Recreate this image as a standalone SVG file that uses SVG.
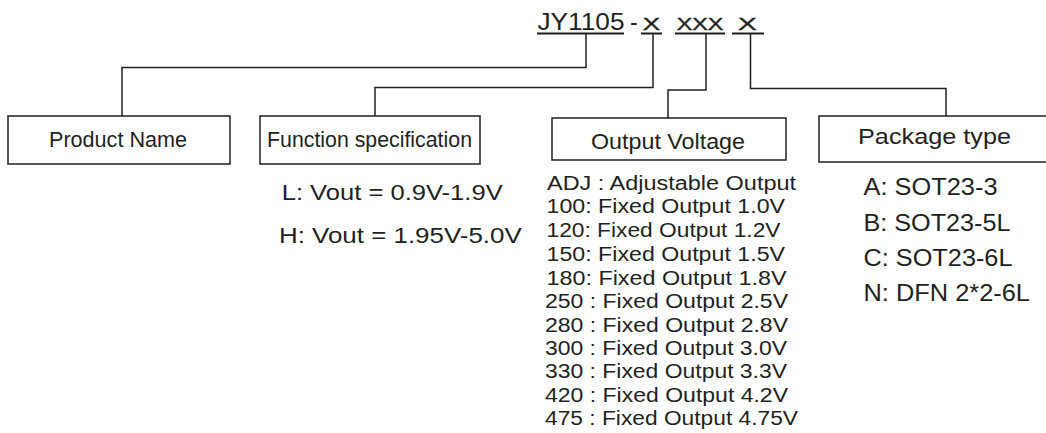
<svg xmlns="http://www.w3.org/2000/svg" width="1046" height="433" viewBox="0 0 1046 433">
<style>
text{font-family:"Liberation Sans",Arial,sans-serif;fill:#231f20}
.box{fill:#fff;stroke:#231f20;stroke-width:1.5}
.con{fill:none;stroke:#231f20;stroke-width:1.5}
.ul{stroke:#231f20;stroke-width:2}
.lbl{font-size:22.5px}
.ov{font-size:20px}
.pk{font-size:24px}
.x{font-size:17px;stroke:#231f20;stroke-width:0.4}
</style>
<rect width="1046" height="433" fill="#fff"/>
<g id="title">
<text x="537.5" y="30" font-size="23" textLength="87" lengthAdjust="spacingAndGlyphs">JY1105</text>
<text x="630" y="30" font-size="23">-</text>
<text x="642.7" y="30" class="x" textLength="17.3" lengthAdjust="spacingAndGlyphs">X</text>
<text x="676.7" y="30" class="x" textLength="46.7" lengthAdjust="spacingAndGlyphs">XXX</text>
<text x="738" y="30" class="x" textLength="18.7" lengthAdjust="spacingAndGlyphs">X</text>
<line class="ul" x1="537" y1="33.5" x2="624" y2="33.5"/>
<line class="ul" x1="641" y1="33.5" x2="662" y2="33.5"/>
<line class="ul" x1="675" y1="33.5" x2="725" y2="33.5"/>
<line class="ul" x1="732" y1="33.5" x2="764" y2="33.5"/>
</g>
<g id="connectors">
<path class="con" d="M586,33.5 V67.5 H122 V116"/>
<path class="con" d="M653,33.5 V87.5 H375 V116"/>
<path class="con" d="M706,33.5 V90 H668 V118"/>
<path class="con" d="M750.5,33.5 V88.5 H946 V116"/>
</g>
<g id="product-name">
<rect class="box" x="8" y="116" width="222" height="48"/>
<text x="49" y="147" class="lbl" textLength="138" lengthAdjust="spacingAndGlyphs">Product Name</text>
</g>
<g id="function-spec">
<rect class="box" x="260" y="116" width="220" height="48"/>
<text x="267" y="147" class="lbl" textLength="205" lengthAdjust="spacingAndGlyphs">Function specification</text>
<text x="281.7" y="200" class="lbl" textLength="221" lengthAdjust="spacingAndGlyphs">L: Vout = 0.9V-1.9V</text>
<text x="279" y="242.7" class="lbl" textLength="242.7" lengthAdjust="spacingAndGlyphs">H: Vout = 1.95V-5.0V</text>
</g>
<g id="output-voltage">
<rect class="box" x="552" y="118" width="234" height="42"/>
<text x="591" y="148.5" class="lbl" textLength="154" lengthAdjust="spacingAndGlyphs">Output Voltage</text>
<text x="547" y="189.5" class="ov" textLength="249" lengthAdjust="spacingAndGlyphs">ADJ : Adjustable Output</text>
<text x="546.5" y="213" class="ov" textLength="238.5" lengthAdjust="spacingAndGlyphs">100: Fixed Output 1.0V</text>
<text x="546.5" y="236.7" class="ov" textLength="234" lengthAdjust="spacingAndGlyphs">120: Fixed Output 1.2V</text>
<text x="546.5" y="260.5" class="ov" textLength="238.5" lengthAdjust="spacingAndGlyphs">150: Fixed Output 1.5V</text>
<text x="546.5" y="284.7" class="ov" textLength="240" lengthAdjust="spacingAndGlyphs">180: Fixed Output 1.8V</text>
<text x="545" y="308.3" class="ov" textLength="243" lengthAdjust="spacingAndGlyphs">250 : Fixed Output 2.5V</text>
<text x="545" y="331.7" class="ov" textLength="243" lengthAdjust="spacingAndGlyphs">280 : Fixed Output 2.8V</text>
<text x="545" y="354.5" class="ov" textLength="242" lengthAdjust="spacingAndGlyphs">300 : Fixed Output 3.0V</text>
<text x="545" y="377.5" class="ov" textLength="242" lengthAdjust="spacingAndGlyphs">330 : Fixed Output 3.3V</text>
<text x="545" y="401.5" class="ov" textLength="243" lengthAdjust="spacingAndGlyphs">420 : Fixed Output 4.2V</text>
<text x="545" y="425" class="ov" textLength="253" lengthAdjust="spacingAndGlyphs">475 : Fixed Output 4.75V</text>
</g>
<g id="package-type">
<rect class="box" x="819" y="116" width="240" height="46"/>
<text x="858" y="143.5" class="lbl" textLength="153" lengthAdjust="spacingAndGlyphs">Package type</text>
<text x="863.5" y="195" class="pk" textLength="134" lengthAdjust="spacingAndGlyphs">A: SOT23-3</text>
<text x="863.5" y="230.7" class="pk" textLength="147" lengthAdjust="spacingAndGlyphs">B: SOT23-5L</text>
<text x="863.5" y="266" class="pk" textLength="149" lengthAdjust="spacingAndGlyphs">C: SOT23-6L</text>
<text x="863.5" y="300.7" class="pk" textLength="166.5" lengthAdjust="spacingAndGlyphs">N: DFN 2*2-6L</text>
</g>
</svg>
